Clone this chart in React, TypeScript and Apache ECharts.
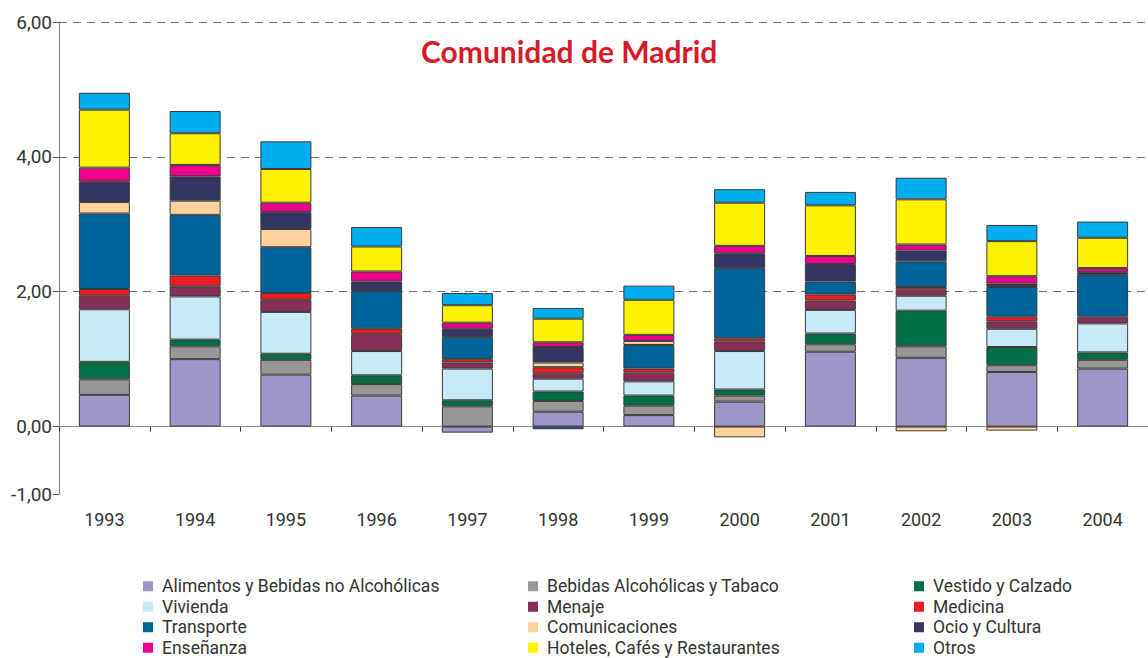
import React, { useEffect, useRef } from "react";
import * as echarts from "echarts";

const years = ["1993", "1994", "1995", "1996", "1997", "1998", "1999", "2000", "2001", "2002", "2003", "2004"];

const seriesNames = [
  "Alimentos y Bebidas no Alcohólicas",
  "Bebidas Alcohólicas y Tabaco",
  "Vestido y Calzado",
  "Vivienda",
  "Menaje",
  "Medicina",
  "Transporte",
  "Comunicaciones",
  "Ocio y Cultura",
  "Enseñanza",
  "Hoteles, Cafés y Restaurantes",
  "Otros",
];

const seriesColors = [
  "#9d96c9", "#979797", "#006f45", "#c8eaf8", "#862f59", "#ed1c24",
  "#00649c", "#ffd19d", "#353564", "#ec008c", "#fff200", "#00aeef",
];

const alimentos = [0.47, 1.0, 0.77, 0.46, -0.09, 0.22, 0.17, 0.37, 1.11, 1.02, 0.81, 0.86];
const bebidas = [0.23, 0.19, 0.22, 0.17, 0.3, 0.16, 0.14, 0.09, 0.11, 0.17, 0.1, 0.13];
const vestido = [0.26, 0.1, 0.09, 0.13, 0.09, 0.14, 0.15, 0.09, 0.16, 0.53, 0.27, 0.11];
const vivienda = [0.78, 0.64, 0.62, 0.36, 0.47, 0.19, 0.21, 0.57, 0.35, 0.22, 0.27, 0.43];
const menaje = [0.2, 0.15, 0.18, 0.25, 0.09, 0.08, 0.13, 0.14, 0.14, 0.09, 0.11, 0.1];
const medicina = [0.1, 0.16, 0.1, 0.08, 0.05, 0.09, 0.06, 0.05, 0.09, 0.04, 0.07, null];
const transporte = [1.12, 0.9, 0.68, 0.56, 0.33, -0.04, 0.35, 1.04, 0.19, 0.38, 0.44, 0.62];
const comunicaciones = [0.17, 0.21, 0.27, null, null, 0.07, 0.06, -0.16, null, -0.07, -0.06, null];
const ocio = [0.3, 0.36, 0.25, 0.14, 0.12, 0.23, null, 0.22, 0.26, 0.16, 0.05, 0.04];
const ensenanza = [0.21, 0.17, 0.14, 0.15, 0.09, 0.07, 0.09, 0.11, 0.12, 0.09, 0.11, 0.06];
const hoteles = [0.86, 0.47, 0.5, 0.37, 0.26, 0.35, 0.52, 0.64, 0.75, 0.67, 0.52, 0.45];
const otros = [0.25, 0.33, 0.41, 0.29, 0.18, 0.16, 0.21, 0.2, 0.2, 0.32, 0.24, 0.24];

const seriesValues = [
  alimentos, bebidas, vestido, vivienda, menaje, medicina,
  transporte, comunicaciones, ocio, ensenanza, hoteles, otros,
];

const yTickValues = [-1, 0, 2, 4, 6];
const dashedLevels = [2, 4, 6];

const FONT = "Roboto, 'Noto Sans', sans-serif";
const LEGEND_FONT = "Roboto, 'Noto Sans', sans-serif";

export default function App() {
  const ref = useRef<HTMLDivElement>(null);

  useEffect(() => {
    if (!ref.current) return;
    const chart = echarts.init(ref.current, undefined, { renderer: "svg" });

    const series: any[] = seriesNames.map((name, i) => ({
      name,
      type: "bar",
      stack: "total",
      barWidth: 51,
      z: 2,
      itemStyle: { color: seriesColors[i], borderColor: "#3a3a3a", borderWidth: 1 },
      data: seriesValues[i],
    }));

    series.push({
      name: "__lines",
      type: "line",
      data: [],
      silent: true,
      markLine: {
        silent: true,
        z: 1,
        symbol: "none",
        label: { show: false },
        data: [
          ...dashedLevels.map((v) => ({
            yAxis: v,
            lineStyle: { color: "#6e6e6e", type: [8, 6], width: 1.2 },
          })),
          { yAxis: 0, lineStyle: { color: "#8a8a8a", type: "solid", width: 1.2 } },
        ],
      },
    });

    const legendCol = (left: number, names: string[]) => ({
      orient: "vertical",
      left,
      top: 576,
      height: 100,
      padding: 0,
      itemWidth: 10,
      itemHeight: 10,
      itemGap: 0,
      icon: "rect",
      selectedMode: false,
      itemStyle: { borderWidth: 0 },
      data: names,
      textStyle: {
        fontFamily: LEGEND_FONT,
        fontSize: 17.5,
        color: "#333",
        lineHeight: 20.5,
        padding: [0, 0, 0, 4],
      },
    });

    chart.setOption({
      animation: false,
      backgroundColor: "#fff",
      title: {
        text: "Comunidad de Madrid",
        left: 416,
        top: 31,
        textStyle: { fontFamily: "Lato, " + FONT, fontWeight: "bold", fontSize: 30, color: "#d71a29" },
      },
      grid: { left: 59, top: 22, bottom: 164, right: -10, containLabel: false },
      legend: [
        legendCol(143, [seriesNames[0], seriesNames[3], seriesNames[6], seriesNames[9]]),
        legendCol(528, [seriesNames[1], seriesNames[4], seriesNames[7], seriesNames[10]]),
        legendCol(914, [seriesNames[2], seriesNames[5], seriesNames[8], seriesNames[11]]),
      ],
      xAxis: {
        type: "category",
        data: years,
        boundaryGap: true,
        axisLine: { lineStyle: { color: "#8a8a8a", width: 1.2 } },
        axisTick: { show: true, length: 5, lineStyle: { color: "#333" } },
        axisLabel: { fontFamily: FONT, fontSize: 18, color: "#333", margin: 16 },
      },
      yAxis: {
        type: "value",
        min: -1,
        max: 6,
        interval: 1,
        axisLine: { show: true, lineStyle: { color: "#8a8a8a", width: 1.2 } },
        axisTick: { show: true, length: 6, lineStyle: { color: "#555" }, customValues: yTickValues },
        splitLine: { show: false },
        axisLabel: {
          fontFamily: FONT,
          fontSize: 19,
          color: "#333",
          margin: 7,
          customValues: yTickValues,
          formatter: (v: number) =>
            yTickValues.includes(v) ? v.toFixed(2).replace(".", ",") : "",
        },
      },
      series,
    });

    return () => chart.dispose();
  }, []);

  return (
    <div
      ref={ref}
      style={{ position: "fixed", left: 0, top: 0, width: 1148, height: 658, background: "#fff" }}
    />
  );
}
